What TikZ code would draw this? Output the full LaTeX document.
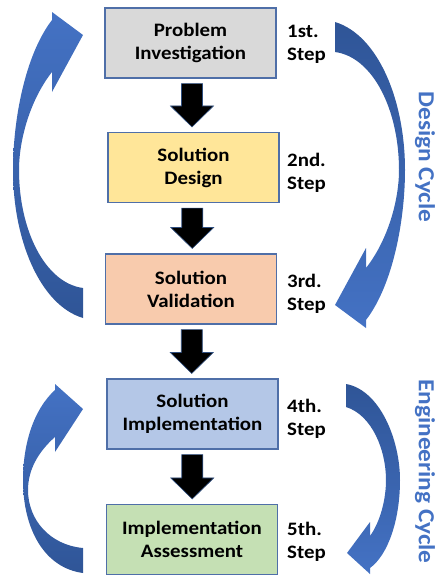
\documentclass[tikz,border=0pt]{standalone}
\usepackage{fontspec}
\setmainfont{Carlito}[FakeStretch=1.1]
\usetikzlibrary{calc}

\definecolor{boxline}{HTML}{4F6FA8}
\definecolor{probfill}{HTML}{D9D9D9}
\definecolor{designfill}{HTML}{FFE699}
\definecolor{validfill}{HTML}{F8CBAD}
\definecolor{implfill}{HTML}{B4C7E7}
\definecolor{assessfill}{HTML}{C5E0B4}
\definecolor{cyclelight}{HTML}{4472C4}
\definecolor{cycledark}{HTML}{2F5597}
\definecolor{cycletext}{HTML}{4472C4}
\definecolor{flowline}{HTML}{2F4F80}

% black block arrow from one stage box down to the next
\newcommand\stepflow[2]{%
  \path[flowarrow] let \p1=(#1.south), \p2=(#2.north),
    \n1={0.5*(\x1+\x2)}, \n2={\y1-5pt}, \n3={\y2+5pt} in
    (\n1-10.5pt,\n2) -- (\n1+10.5pt,\n2) -- (\n1+10.5pt,\n3+21pt)
    -- (\n1+21.5pt,\n3+21pt) -- (\n1,\n3) -- (\n1-21.5pt,\n3+21pt)
    -- (\n1-10.5pt,\n3+21pt) -- cycle;}

\begin{document}
\begin{tikzpicture}[x=1pt,y=-1pt,
  stagebox/.style={draw=boxline, line width=1.1pt, minimum width=171pt,
    minimum height=70pt, inner sep=0pt, align=center,
    font=\bfseries\fontsize{19}{23}\selectfont},
  steplabel/.style={anchor=west, inner sep=0pt, align=left,
    font=\bfseries\fontsize{19}{23}\selectfont},
  cyclelabel/.style={rotate=-90, inner sep=0pt, text=cycletext,
    font=\bfseries\fontsize{23}{28}\selectfont},
  flowarrow/.style={fill=black, draw=flowline, line width=0.6pt},
  rising/.style={top color=cyclelight, bottom color=cycledark},
  falling/.style={top color=cycledark, bottom color=cyclelight}]

\useasboundingbox (0,0) rectangle (437,576);

% stage boxes
\node[stagebox, fill=probfill]   (s1) at (190.5,43)  {Problem\\Investigation};
\node[stagebox, fill=designfill] (s2) at (193.5,167.5) {Solution\\Design};
\node[stagebox, fill=validfill]  (s3) at (191,289)   {Solution\\Validation};
\node[stagebox, fill=implfill]   (s4) at (192.5,414) {Solution\\Implementation};
\node[stagebox, fill=assessfill] (s5) at (192,539.5) {Implementation\\Assessment};

% step numbers
\node[steplabel] (n1) at (287,44)    {1st.\\Step};
\node[steplabel] (n2) at (287,173)   {2nd.\\Step};
\node[steplabel] (n3) at (287,294)   {3rd.\\Step};
\node[steplabel] (n4) at (287,419)   {4th.\\Step};
\node[steplabel] (n5) at (287,542)   {5th.\\Step};

% flow between stages
\stepflow{s1}{s2}
\stepflow{s2}{s3}
\stepflow{s3}{s4}
\stepflow{s4}{s5}

% design cycle: return arrow on the left, forward arrow on the right
\path[rising] (52,12) -- (83,35) -- (52,92) -- (52,72)
  .. controls (30,100) and (19,140) .. (19,170)
  .. controls (19,230) and (45,283) .. (83,288) -- (83,318)
  .. controls (40,305) and (13,240) .. (13,170)
  .. controls (13,120) and (25,55) .. (52,20) -- cycle;
\path[falling] (366,328) -- (335,305) -- (366,248) -- (366,268)
  .. controls (388,240) and (399,200) .. (399,170)
  .. controls (399,110) and (373,57) .. (335,52) -- (335,22)
  .. controls (378,35) and (405,100) .. (405,170)
  .. controls (405,220) and (393,285) .. (366,320) -- cycle;

% engineering cycle arrows
\path[rising] (55,384) -- (83,409) -- (55,452) -- (55,437)
  .. controls (38,452) and (28,470) .. (28,490)
  .. controls (28,520) and (50,545) .. (83,548) -- (83,573)
  .. controls (45,568) and (23,530) .. (23,480)
  .. controls (23,445) and (33,410) .. (55,390) -- cycle;
\path[falling] (346,384) .. controls (380,390) and (400,440) .. (400,480)
  .. controls (400,520) and (388,555) .. (370,568) -- (370,574)
  -- (347,553) -- (370,522) -- (370,536)
  .. controls (380,522) and (386,500) .. (386,480)
  .. controls (386,450) and (372,415) .. (346,407) -- cycle;

% cycle names
\node[cyclelabel] (dc) at (425,157)   {Design Cycle};
\node[cyclelabel] (ec) at (425,471.5) {Engineering Cycle};
\end{tikzpicture}
\end{document}
